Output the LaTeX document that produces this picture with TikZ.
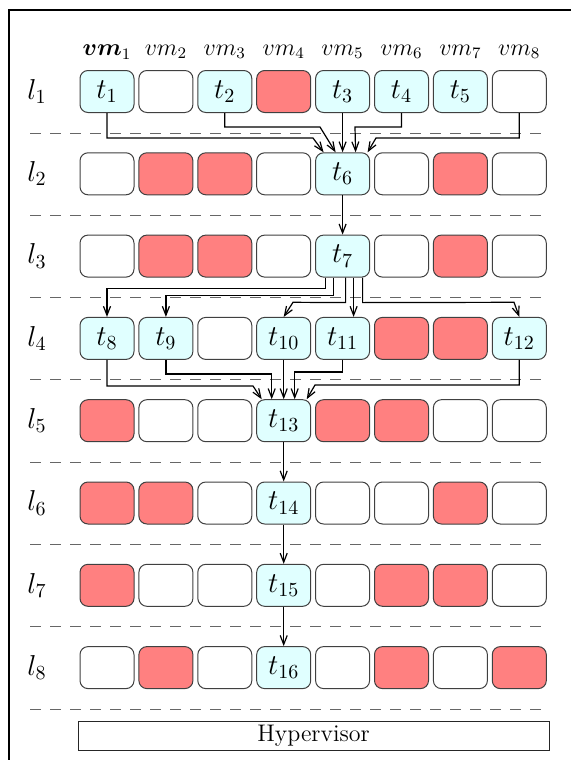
\documentclass[tikz,border=0pt]{standalone}
\usepackage{amsmath}
\usetikzlibrary{arrows.meta}
\definecolor{busyred}{HTML}{FF8080}
\definecolor{taskcyan}{HTML}{E0FFFF}

\begin{document}
\begin{tikzpicture}[x=0.5pt,y=-0.5pt,>={Straight Barb[length=4.5pt,width=3.5pt]},font=\fontsize{12}{14}\selectfont,
  big/.style={font=\fontsize{14.4}{17}\selectfont},
  slot/.style={draw=black!75,line width=0.5pt,rounded corners=4pt,minimum width=27pt,minimum height=21pt,inner sep=0pt},
  free/.style={slot,fill=white}, busy/.style={slot,fill=busyred}, task/.style={slot,big,fill=taskcyan},
  layer/.style={black!60,line width=0.5pt,dash pattern=on 5.5pt off 4.5pt},
  link/.style={->,line width=0.6pt}]
  \useasboundingbox (0,0) rectangle (571,760); \clip (0,0) rectangle (571,760);
  \draw[line width=1pt] (9.3,10) rectangle (600,800);
  % vm columns and layers
  \node (vm1) at (107,52) {$\boldsymbol{vm}_1$};
  \foreach \c in {2,...,8} \node (vm\c) at ({107+(\c-1)*58.9},52) {$vm_{\c}$};
  \foreach \row [count=\r] in {{1,0,2,-1,3,4,5,0},{0,-1,-1,0,6,0,-1,0},{0,-1,-1,0,7,0,-1,0},{8,9,0,10,11,-1,-1,12},
      {-1,0,0,13,-1,-1,0,0},{-1,-1,0,14,0,0,-1,0},{-1,0,0,15,0,-1,-1,0},{0,-1,0,16,0,-1,0,-1}}{
    \node[big] (l\r) at (37,{91.5+(\r-1)*82.3}) {$l_{\r}$};
    \foreach \k [count=\c] in \row {
      \ifnum\k>0 \node[task] (t\k) at ({107+(\c-1)*58.9},{91.5+(\r-1)*82.3}) {$t_{\k}$};
      \else\ifnum\k<0 \node[busy] (b\r-\c) at ({107+(\c-1)*58.9},{91.5+(\r-1)*82.3}) {};
      \else \node[free] (b\r-\c) at ({107+(\c-1)*58.9},{91.5+(\r-1)*82.3}) {};\fi\fi}
    \draw[layer] (30,{133+(\r-1)*82.3}) -- (548,{133+(\r-1)*82.3});
  }
  \node[draw=black!85,line width=0.5pt,minimum width=235.5pt,minimum height=14.5pt,inner sep=0pt] (hyp) at (313.5,735.5) {Hypervisor};
  % dependencies
  \draw[link] (t1.south) |- (313,138) -- ([shift={(-19,0)}]t6.north);
  \draw[link] (t2.south) |- (320,127) -- ([shift={(-7,0)}]t6.north);
  \draw[link] (t3) -- (t6);
  \draw[link] (t4.south) |- (355,127) -- ([shift={(13,0)}]t6.north);
  \draw[link] (b1-8.south) |- (376,138) -- ([shift={(25,0)}]t6.north);
  \draw[link] (t6) -- (t7);
  \draw[link] ([shift={(-17,0)}]t7.south) -- ++(0,11) -| (t8.north);
  \draw[link] ([shift={(-9,0)}]t7.south) -- ++(0,18) -| (t9.north);
  \draw[link] ([shift={(3,0)}]t7.south) -- ++(0,25) -- (293,302.3) -- (t10.north);
  \draw[link] ([shift={(11,0)}]t7.south) -- ([shift={(11,0)}]t11.north);
  \draw[link] ([shift={(20,0)}]t7.south) -- ++(0,25) -- (514,302.3) -- (t12.north);
  \draw[link] (t8.south) |- (253,386) -- ([shift={(-22,0)}]t13.north);
  \draw[link] (t9.south) -- ++(0,14) -| ([shift={(-12,0)}]t13.north);
  \draw[link] (t10) -- (t13);
  \draw[link] (t11.south) -- ++(0,12) -| ([shift={(11,0)}]t13.north);
  \draw[link] (t12.south) |- (315,385) -- ([shift={(23,0)}]t13.north);
  \draw[link] (t13) -- (t14); \draw[link] (t14) -- (t15); \draw[link] (t15) -- (t16);
\end{tikzpicture}
\end{document}
